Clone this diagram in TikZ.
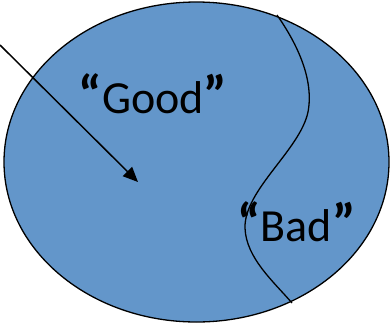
\documentclass[tikz,border=0pt]{standalone}
\usepackage{fontspec}
\setmainfont{Carlito}
\usetikzlibrary{arrows.meta}
\definecolor{setBlue}{HTML}{6396CA}
\newcommand{\qmark}[1]{{\fontsize{54}{56}\selectfont\bfseries #1}}
\tikzset{
 region/.style={draw=black,fill=setBlue,line width=1.3pt},
 divide/.style={draw=black,line width=1.3pt},
 pointer/.style={draw=black,line width=1.5pt,-{Triangle[length=15pt,width=13pt]}},
 tag/.style={font=\fontsize{46}{50}\selectfont,anchor=base,inner sep=0pt}
}
\begin{document}
\begin{tikzpicture}[x=1pt,y=-1pt]
 \useasboundingbox (0,0) rectangle (391,325);
 \draw[region] (196.5,162) ellipse [x radius=192.5pt,y radius=160pt];
 % boundary between the two parts
 \coordinate (cutTop) at (277,15);
 \coordinate (cutBot) at (292,303);
 \draw[divide] (cutTop) .. controls (298,45) and (314,80) .. (308,112)
   .. controls (300,150) and (244,190) .. (245,228)
   .. controls (246,258) and (274,282) .. (cutBot);
 \node[tag] (good) at (153,113) {\qmark{“}Good\qmark{”}};
 \node[tag] (bad) at (296.5,241) {\qmark{“}Bad\qmark{”}};
 \coordinate (src) at (0,45);
 \coordinate (tip) at (138,182);
 \draw[pointer] (src) -- (tip);
\end{tikzpicture}
\end{document}
